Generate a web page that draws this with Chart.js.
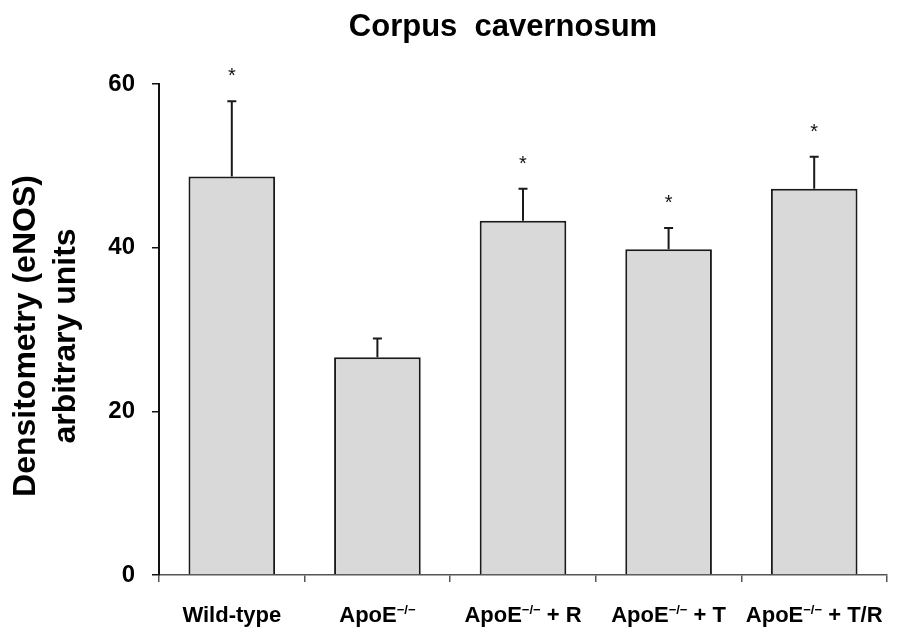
<!DOCTYPE html>
<html>
<head>
<meta charset="utf-8">
<script src="https://cdn.jsdelivr.net/npm/chart.js@4"></script>
<style>
  html, body { margin: 0; padding: 0; background: #fff; }
  #chart { display: block; }
</style>
</head>
<body>
<canvas id="chart" width="901" height="630"></canvas>
<script>
const CATEGORIES = ["Wild-type", "ApoE-/-", "ApoE-/- + R", "ApoE-/- + T", "ApoE-/- + T/R"];
const MEANS = [48.7, 26.6, 43.3, 39.8, 47.2];
const ERRORS = [9.2, 2.3, 3.9, 2.6, 3.9];
const SIGNIFICANT = [true, false, true, true, true];
const Y_TICKS = [0, 20, 40, 60];

const TITLE = "Corpus  cavernosum";
const Y_TITLE = ["Densitometry (eNOS)", "arbitrary units"];
const FONT = "'Liberation Sans', Arial, Helvetica, sans-serif";

// --- error bars + asterisks ---
const errorBars = {
  id: "errorBars",
  afterDatasetsDraw(chart) {
    const ctx = chart.ctx;
    const y = chart.scales.y;
    const bars = chart.getDatasetMeta(0).data;
    ctx.save();
    ctx.strokeStyle = "#1a1a1a";
    ctx.lineWidth = 2;
    bars.forEach((bar, i) => {
      const top = y.getPixelForValue(MEANS[i] + ERRORS[i]);
      ctx.beginPath();
      ctx.moveTo(bar.x, bar.y);
      ctx.lineTo(bar.x, top);
      ctx.moveTo(bar.x - 4.5, top);
      ctx.lineTo(bar.x + 4.5, top);
      ctx.stroke();
      if (SIGNIFICANT[i]) {
        ctx.fillStyle = "#111";
        ctx.font = "20px " + FONT;
        ctx.textAlign = "center";
        ctx.textBaseline = "alphabetic";
        ctx.fillText("*", bar.x, top - 19);
      }
    });
    ctx.restore();
  }
};

// --- texts: title, y title, category labels with superscript ---
const texts = {
  id: "texts",
  afterDraw(chart) {
    const ctx = chart.ctx;
    ctx.save();
    ctx.fillStyle = "#000";
    ctx.textBaseline = "alphabetic";

    ctx.font = "bold 31px " + FONT;
    ctx.textAlign = "center";
    ctx.fillText(TITLE, 503, 36);

    ctx.save();
    ctx.translate(0, 336);
    ctx.rotate(-Math.PI / 2);
    ctx.font = "bold 32px " + FONT;
    ctx.fillText(Y_TITLE[0], 0, 35);
    ctx.fillText(Y_TITLE[1], 0, 75);
    ctx.restore();

    const x = chart.scales.x;
    CATEGORIES.forEach((label, i) => {
      const cx = x.getPixelForValue(i);
      const parts = label.split("-/-");
      const main = "bold 22px " + FONT;
      const sup = "bold 13px " + FONT;
      const pieces = parts.length === 1
        ? [{ t: parts[0], f: main, dy: 0 }]
        : [{ t: parts[0], f: main, dy: 0 }, { t: "\u2212/\u2212", f: sup, dy: -8 }, { t: parts[1], f: main, dy: 0 }];
      let w = 0;
      pieces.forEach(p => { ctx.font = p.f; p.w = ctx.measureText(p.t).width; w += p.w; });
      let px = cx - w / 2;
      ctx.textAlign = "left";
      pieces.forEach(p => {
        ctx.font = p.f;
        ctx.fillText(p.t, px, 622 + p.dy);
        px += p.w;
      });
    });
    ctx.restore();
  }
};

new Chart(document.getElementById("chart"), {
  type: "bar",
  data: {
    labels: CATEGORIES,
    datasets: [{
      data: MEANS,
      backgroundColor: "#d9d9d9",
      borderColor: "#1a1a1a",
      borderWidth: 2,
      barPercentage: 0.595,
      categoryPercentage: 1
    }]
  },
  options: {
    responsive: false,
    animation: false,
    devicePixelRatio: 1,
    layout: { padding: { top: 84, right: 14, bottom: 0, left: 0 } },
    plugins: { legend: { display: false }, tooltip: { enabled: false }, title: { display: false } },
    scales: {
      x: {
        afterFit: (s) => { s.height = 55; },
        ticks: { display: false },
        grid: { offset: true, drawOnChartArea: false, drawTicks: true, tickLength: 7, color: "#555", lineWidth: 1.5 },
        border: { display: true, color: "#555", width: 1.5 }
      },
      y: {
        min: 0,
        max: 60,
        afterFit: (s) => { s.width = 159; },
        afterBuildTicks: (s) => { s.ticks = Y_TICKS.map(v => ({ value: v })); },
        ticks: {
          color: "#000",
          padding: 17,
          font: { family: FONT, size: 24, weight: "bold" }
        },
        grid: { drawOnChartArea: false, drawTicks: true, tickLength: 7, color: "#111", lineWidth: 1.5 },
        border: { display: true, color: "#111", width: 2 }
      }
    }
  },
  plugins: [errorBars, texts]
});
</script>
</body>
</html>
